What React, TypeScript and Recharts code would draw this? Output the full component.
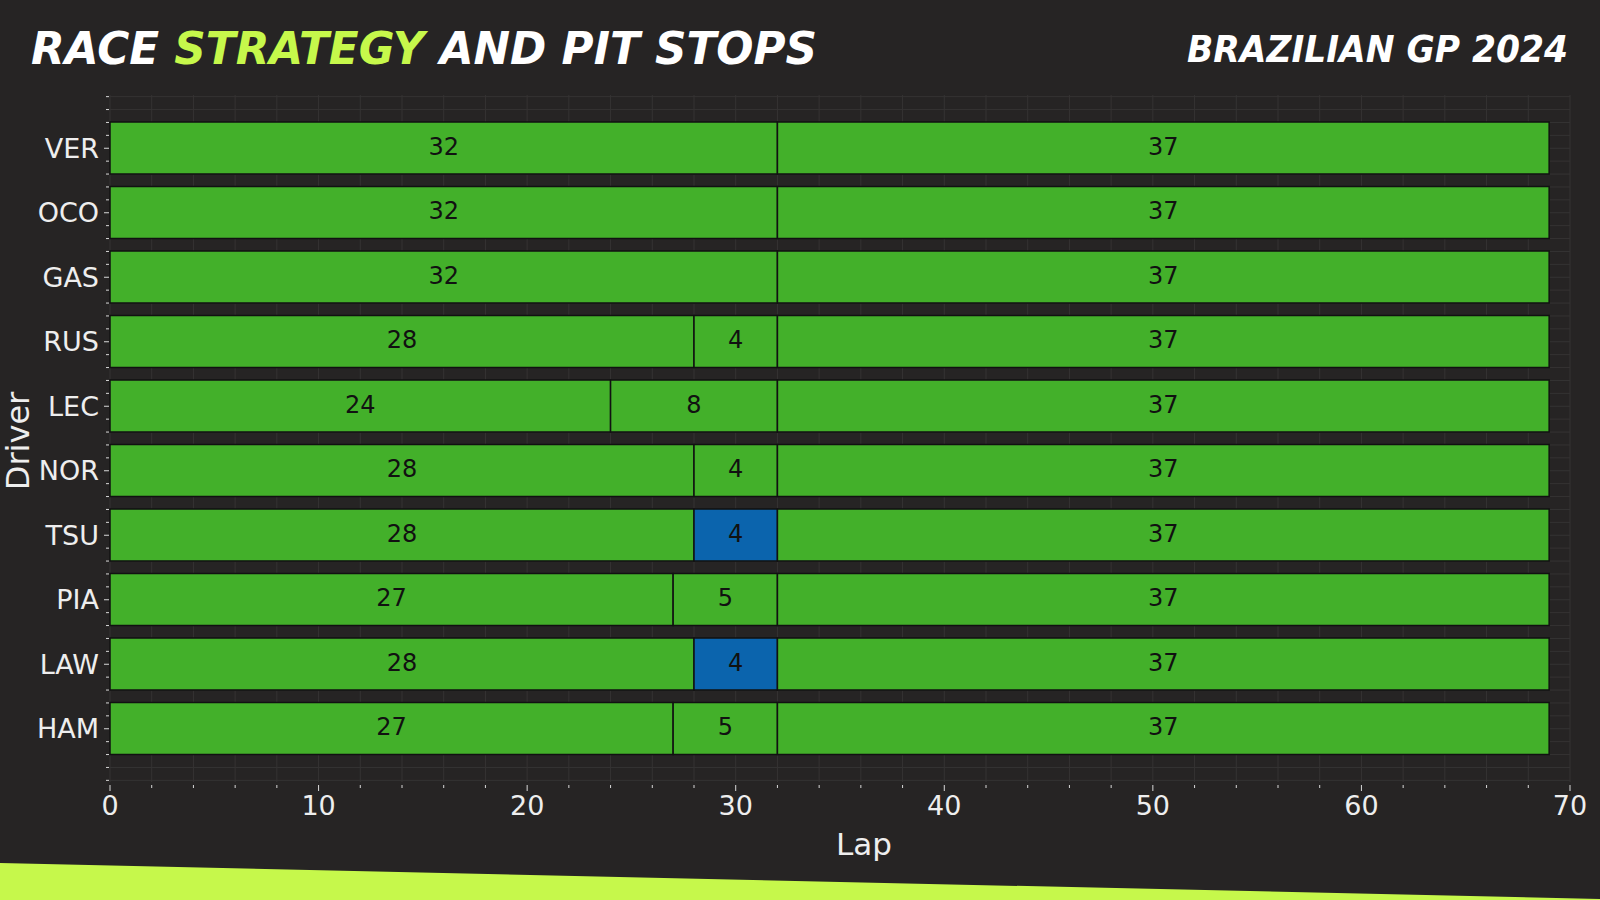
import React from 'react';
import { BarChart, Bar, XAxis, YAxis, CartesianGrid, Cell, LabelList } from 'recharts';

const drivers = ['VER', 'OCO', 'GAS', 'RUS', 'LEC', 'NOR', 'TSU', 'PIA', 'LAW', 'HAM'];
const stint1 = [32, 32, 32, 28, 24, 28, 28, 27, 28, 27];
const stint2 = [37, 37, 37, 4, 8, 4, 4, 5, 4, 5];
const stint3 = [0, 0, 0, 37, 37, 37, 37, 37, 37, 37];
const compound1 = ['INT', 'INT', 'INT', 'INT', 'INT', 'INT', 'INT', 'INT', 'INT', 'INT'];
const compound2 = ['INT', 'INT', 'INT', 'INT', 'INT', 'INT', 'WET', 'INT', 'WET', 'INT'];
const compound3 = ['INT', 'INT', 'INT', 'INT', 'INT', 'INT', 'INT', 'INT', 'INT', 'INT'];

const COLORS: Record<string, string> = { INT: '#43b02a', WET: '#0b64ad' };

const data = drivers.map((d, i) => ({
  driver: d,
  s1: stint1[i],
  s2: stint2[i],
  s3: stint3[i],
  c1: compound1[i],
  c2: compound2[i],
  c3: compound3[i],
}));

// layout
const W = 1600;
const H = 900;
const PLOT_TOP = 95;
const PLOT_BOTTOM = 782;
const PAD = 21;
const BAND = (PLOT_BOTTOM - PLOT_TOP - 2 * PAD) / drivers.length;

const lapTicks = Array.from({ length: 36 }, (_, i) => i * 2);
// minor grid rows every 0.2 of a row, from -0.8 to 9.8
const gridSteps = Array.from({ length: 54 }, (_, i) => -0.8 + i * 0.2);

const TEXT = '#eeeeee';
const FONT = '"DejaVu Sans", sans-serif';

const LapTick = (props: any) => {
  const { x, y, payload } = props;
  const major = payload.value % 10 === 0;
  return (
    <g>
      <line x1={x} x2={x} y1={y + 3} y2={y + (major ? 9 : 6)} stroke="#d8d8d8" strokeWidth={1} />
      {major && (
        <text x={x} y={y + 14} dy="0.71em" textAnchor="middle" fill={TEXT} fontSize={27} fontFamily={FONT}>
          {payload.value}
        </text>
      )}
    </g>
  );
};

const DriverTick = (props: any) => {
  const { x, y, payload, index } = props;
  const ks = [-2, -1, 1, 2];
  if (index === 0) ks.push(-4, -3);
  if (index === drivers.length - 1) ks.push(3, 4);
  return (
    <g>
      {ks.map((k) => (
        <line key={k} x1={x - 4} x2={x - 1} y1={y + k * 0.2 * BAND} y2={y + k * 0.2 * BAND} stroke="#d8d8d8" strokeWidth={1} />
      ))}
      <line x1={x - 6} x2={x - 1} y1={y} y2={y} stroke="#d8d8d8" strokeWidth={1} />
      <text x={x - 11} y={y} dy="0.36em" textAnchor="end" fill={TEXT} fontSize={27} fontFamily={FONT}>
        {payload.value}
      </text>
    </g>
  );
};

const StintLabel = (props: any) => {
  const { x, y, width, height, value } = props;
  if (!value) return null;
  return (
    <text
      x={x + width / 2}
      y={y + height / 2 - 2}
      dy="0.36em"
      textAnchor="middle"
      fill="#111111"
      fontSize={24}
      fontFamily={FONT}
    >
      {value}
    </text>
  );
};

const gridRows = (props: any) => {
  const top = props?.offset?.top ?? PLOT_TOP;
  return gridSteps.map((s) => top + PAD + BAND * (s + 0.5));
};

const stintBar = (key: 's1' | 's2' | 's3', ckey: 'c1' | 'c2' | 'c3') => (
  <Bar
    dataKey={key}
    stackId="race"
    xAxisId="lap"
    yAxisId="cat"
    barSize={Math.round(BAND * 0.8)}
    stroke="#111111"
    strokeWidth={1.5}
    isAnimationActive={false}
  >
    {data.map((r, i) => (
      <Cell key={i} fill={COLORS[r[ckey]]} />
    ))}
    <LabelList dataKey={key} content={<StintLabel />} />
  </Bar>
);

export default function App() {
  return (
    <div style={{ position: 'absolute', left: 0, top: 0, width: W, height: H, background: '#262424', overflow: 'hidden' }}>
      <svg width={W} height={H} style={{ position: 'absolute', left: 0, top: 0 }}>
        <polygon points={`0,863 ${W},899 ${W},${H} 0,${H}`} fill="#c6f84b" />
      </svg>
      <div style={{ position: 'absolute', left: 0, top: 0 }}>
        <BarChart
          width={W}
          height={H}
          data={data}
          layout="vertical"
          margin={{ top: PLOT_TOP, right: 30, left: 40, bottom: H - PLOT_BOTTOM - 70 }}
        >
          <CartesianGrid
            xAxisId="lap"
            yAxisId="cat"
            stroke="#353333"
            strokeWidth={1}
            horizontalCoordinatesGenerator={gridRows}
          />
          <XAxis
            xAxisId="lap"
            type="number"
            domain={[0, 70]}
            ticks={lapTicks}
            interval={0}
            height={70}
            axisLine={false}
            tickLine={false}
            tickSize={0}
            tickMargin={0}
            tick={<LapTick />}
          />
          <YAxis
            yAxisId="cat"
            type="category"
            dataKey="driver"
            width={70}
            padding={{ top: PAD, bottom: PAD }}
            axisLine={false}
            tickLine={false}
            tickSize={0}
            tickMargin={0}
            interval={0}
            tick={<DriverTick />}
          />
          {stintBar('s1', 'c1')}
          {stintBar('s2', 'c2')}
          {stintBar('s3', 'c3')}
        </BarChart>
      </div>
      <svg width={W} height={H} style={{ position: 'absolute', left: 0, top: 0, pointerEvents: 'none' }}>
        <text
          x={31}
          y={64}
          fontSize={45}
          fontWeight="bold"
          fontStyle="italic"
          fontFamily={FONT}
          fill="#ffffff"
          textLength={786}
          lengthAdjust="spacingAndGlyphs"
        >
          RACE <tspan fill="#c6f84b">STRATEGY</tspan> AND PIT STOPS
        </text>
        <text
          x={1568}
          y={62}
          textAnchor="end"
          fontSize={37}
          fontWeight="bold"
          fontStyle="italic"
          fontFamily={FONT}
          fill="#ffffff"
          textLength={381}
          lengthAdjust="spacingAndGlyphs"
        >
          BRAZILIAN GP 2024
        </text>
        <text x={864} y={844} dy="0.36em" textAnchor="middle" fill={TEXT} fontSize={31} fontFamily={FONT}>
          Lap
        </text>
        <text
          x={17}
          y={441}
          dy="0.36em"
          textAnchor="middle"
          fill={TEXT}
          fontSize={32}
          fontFamily={FONT}
          transform="rotate(-90 17 441)"
        >
          Driver
        </text>
      </svg>
    </div>
  );
}
